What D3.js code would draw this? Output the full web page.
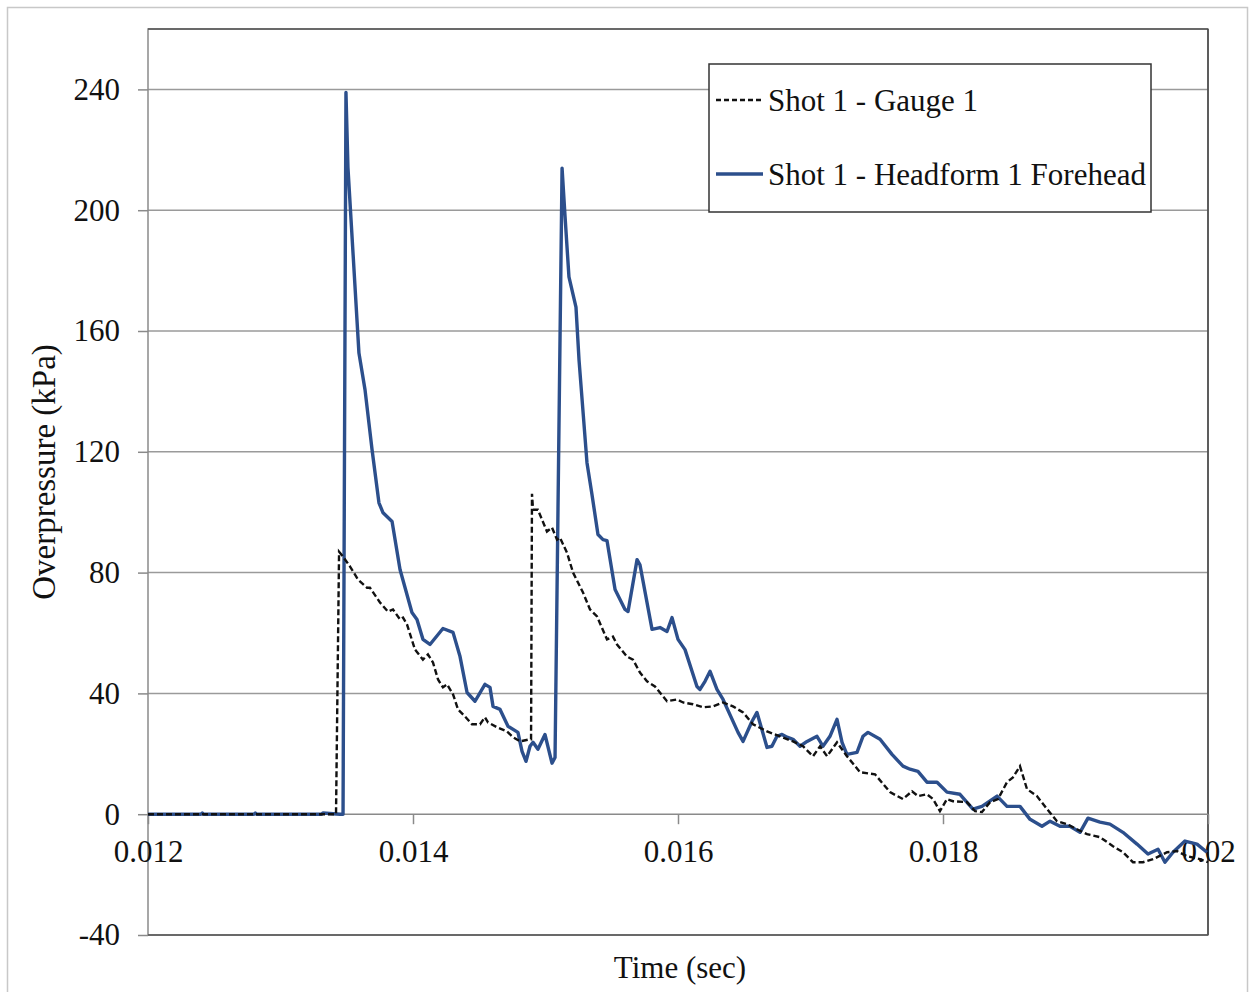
<!DOCTYPE html>
<html><head><meta charset="utf-8">
<script src="https://cdn.jsdelivr.net/npm/d3@7"></script>
<style>body{margin:0;background:#fff}svg{display:block}</style>
</head><body>
<svg id="chart" width="1256" height="992"></svg>
<script>
const seriesNames = ["Shot 1 - Gauge 1", "Shot 1 - Headform 1 Forehead"];
const xTicks = [0.012, 0.014, 0.016, 0.018, 0.02];
const xTickLabels = ["0.012", "0.014", "0.016", "0.018", "0.02"];
const yTicks = [-40, 0, 40, 80, 120, 160, 200, 240];
const yTickLabels = ["-40", "0", "40", "80", "120", "160", "200", "240"];

const gaugeTime = [0.012,0.01265,0.0129,0.013419,0.013442,0.013472,0.013525,0.013585,0.013653,0.013675,0.013751,0.013811,0.013849,0.013902,0.013925,0.013955,0.014015,0.014075,0.014113,0.014151,0.014189,0.014226,0.014257,0.014302,0.01434,0.014392,0.014445,0.014506,0.014543,0.014566,0.014634,0.014709,0.014755,0.014808,0.014883,0.014891,0.014898,0.014906,0.014943,0.015011,0.015049,0.015087,0.015109,0.015162,0.015208,0.015283,0.015336,0.015389,0.015464,0.015509,0.01554,0.015615,0.01566,0.015713,0.015766,0.015826,0.015917,0.015992,0.016038,0.016113,0.016189,0.016264,0.01634,0.016415,0.016491,0.016566,0.016672,0.01677,0.016868,0.016943,0.017019,0.017072,0.017125,0.0172,0.017275,0.017374,0.017487,0.0176,0.017698,0.017766,0.017811,0.017879,0.017925,0.017977,0.01803,0.018075,0.018181,0.018242,0.018294,0.018355,0.018415,0.018483,0.018528,0.018581,0.018634,0.018709,0.018785,0.01886,0.018936,0.019011,0.019087,0.019185,0.019283,0.019358,0.019434,0.019509,0.019585,0.019691,0.019766,0.019841,0.01994,0.02];
const gaugeValue = [0,0,0,0,86.9,85.3,82.0,77.7,75.0,75.0,70.1,67.1,67.8,64.5,65.1,62.8,54.5,51.2,52.9,50.2,44.6,42.0,43.0,39.7,34.7,32.4,29.8,29.8,32.1,30.4,28.8,27.4,25.5,24.1,24.8,24.8,106.1,100.8,100.8,93.6,94.9,90.9,91.6,86.6,80.0,73.4,67.8,65.5,57.9,58.8,56.2,52.2,51.2,46.9,44.0,42.3,37.4,38.0,37.0,36.4,35.4,35.7,37.0,35.7,33.7,29.8,27.4,25.8,24.1,22.5,19.2,22.5,19.2,23.8,19.2,13.9,13.2,7.3,5.0,7.6,6.0,6.6,5.0,1.0,5.0,4.3,4.0,1.0,0.7,4.0,5.0,10.6,12.2,15.9,8.3,6.0,1.7,-2.3,-3.3,-5.0,-6.6,-7.6,-10.6,-12.6,-15.9,-15.9,-14.9,-12.6,-12.2,-13.9,-14.9,-15.9];

const headTime = [0.012,0.0124,0.01241,0.01242,0.0128,0.01281,0.01282,0.01331,0.01332,0.013449,0.013472,0.013494,0.013509,0.013592,0.013638,0.013691,0.013743,0.013774,0.013842,0.013902,0.013992,0.01403,0.014075,0.014128,0.014226,0.014302,0.014355,0.014408,0.014468,0.014543,0.014581,0.014604,0.014657,0.014717,0.014792,0.014823,0.014853,0.014883,0.014906,0.014943,0.014996,0.015049,0.015072,0.015125,0.015147,0.015177,0.01523,0.015253,0.015313,0.015351,0.015396,0.015434,0.015464,0.015525,0.0156,0.015623,0.015691,0.015713,0.015804,0.015864,0.015917,0.015955,0.016,0.016053,0.016143,0.016166,0.016204,0.016242,0.016294,0.01634,0.016453,0.016491,0.016558,0.016596,0.016672,0.016709,0.016747,0.016785,0.016823,0.016868,0.016921,0.016974,0.017049,0.017094,0.017147,0.0172,0.017238,0.017275,0.017351,0.017396,0.017434,0.017525,0.017615,0.017698,0.017751,0.017811,0.017879,0.017955,0.01803,0.018128,0.018226,0.018294,0.018408,0.018483,0.018581,0.018657,0.018747,0.018808,0.018883,0.018958,0.019034,0.019094,0.019185,0.01926,0.019358,0.019464,0.019547,0.019623,0.019675,0.019736,0.019826,0.019917,0.019992];
const headValue = [0,0,0.4,0,0,0.4,0,0,0.4,0,0,239.0,214.2,152.7,140.5,120.7,103.1,99.8,96.9,81.0,66.8,64.5,57.9,56.2,61.5,60.2,52.2,40.3,37.4,43.0,42.0,35.7,34.7,29.1,27.1,20.8,17.5,22.5,23.8,21.5,26.4,16.9,18.8,213.9,198.3,177.9,167.9,150.4,116.4,105.8,92.6,90.9,90.6,74.4,67.8,67.1,84.3,82.6,61.2,61.8,60.5,65.1,57.9,54.5,42.3,41.3,44.0,47.3,41.3,38.0,27.1,24.1,30.7,33.7,22.1,22.5,25.8,26.4,25.5,24.8,22.5,24.1,25.8,22.5,25.8,31.4,23.8,19.8,20.5,25.8,27.1,24.8,19.8,15.9,14.9,14.2,10.6,10.6,7.3,6.6,1.7,2.6,6.0,2.6,2.6,-1.7,-4.0,-2.3,-4.0,-4.0,-6.0,-1.3,-2.6,-3.3,-6.0,-9.9,-13.2,-11.6,-15.9,-12.6,-8.9,-9.9,-12.6];

const gauge = gaugeTime.map((t,i)=>({t, v: gaugeValue[i]}));
const head = headTime.map((t,i)=>({t, v: headValue[i]}));

const svg = d3.select("#chart");
const FONT = "'Liberation Serif', 'Times New Roman', serif";
const L = 148, R = 1208, T = 29, B = 935;

svg.append("rect").attr("x",7.5).attr("y",7.5).attr("width",1240).attr("height",1000)
  .attr("fill","#fff").attr("stroke","#c8c8c8").attr("stroke-width",1.5);

const x = d3.scaleLinear().domain([0.012, 0.02]).range([L, R]);
const y = d3.scaleLinear().domain([-40, 260]).range([B, T]);

// gridlines
svg.append("g").selectAll("line").data(yTicks.filter(v=>v>0)).join("line")
  .attr("x1",L).attr("x2",R).attr("y1",d=>y(d)).attr("y2",d=>y(d))
  .attr("stroke","#9a9a9a").attr("stroke-width",1.5);

// plot border
svg.append("rect").attr("x",L).attr("y",T).attr("width",R-L).attr("height",B-T)
  .attr("fill","none").attr("stroke","#8a8a8a").attr("stroke-width",1.5);
svg.append("line").attr("x1",L).attr("x2",R).attr("y1",T).attr("y2",T).attr("stroke","#555").attr("stroke-width",1.5);
svg.append("line").attr("x1",R).attr("x2",R).attr("y1",T).attr("y2",B).attr("stroke","#444").attr("stroke-width",1.5);
svg.append("line").attr("x1",L).attr("x2",R).attr("y1",B).attr("y2",B).attr("stroke","#555").attr("stroke-width",1.5);

// y axis
const yAxis = d3.axisLeft(y).tickValues(yTicks).tickSize(10).tickPadding(18)
  .tickFormat((d,i)=>yTickLabels[i]);
const gy = svg.append("g").attr("transform",`translate(${L},0)`).call(yAxis);
gy.select(".domain").remove();
gy.selectAll(".tick line").attr("stroke","#8a8a8a").attr("stroke-width",1.5);
gy.selectAll(".tick text").attr("font-family",FONT).attr("font-size",31).attr("fill","#111");

// x axis at y=0
const xAxis = d3.axisBottom(x).tickValues(xTicks).tickSize(10).tickPadding(16)
  .tickFormat((d,i)=>xTickLabels[i]);
const gx = svg.append("g").attr("transform",`translate(0,${y(0)})`).call(xAxis);
gx.select(".domain").attr("stroke","#8a8a8a").attr("stroke-width",1.5).attr("d",`M${L},0H${R}`);
gx.selectAll(".tick line").attr("stroke","#8a8a8a").attr("stroke-width",1.5);
gx.selectAll(".tick text").attr("font-family",FONT).attr("font-size",31).attr("fill","#111");

// lines
const line = d3.line().x(d=>x(d.t)).y(d=>y(d.v));
svg.append("path").datum(head).attr("d",line).attr("fill","none")
  .attr("stroke","#2c4f8c").attr("stroke-width",3.4).attr("stroke-linejoin","round");
svg.append("path").datum(gauge).attr("d",line).attr("fill","none")
  .attr("stroke","#111").attr("stroke-width",2.4).attr("stroke-dasharray","6,3");

// axis titles
svg.append("text").attr("x",680).attr("y",978).attr("text-anchor","middle")
  .attr("font-family",FONT).attr("font-size",31).attr("fill","#111").text("Time (sec)");
svg.append("text").attr("transform","translate(55,472) rotate(-90)").attr("text-anchor","middle")
  .attr("font-family",FONT).attr("font-size",33).attr("fill","#111").text("Overpressure (kPa)");

// legend
const lg = svg.append("g");
lg.append("rect").attr("x",709).attr("y",64).attr("width",442).attr("height",148)
  .attr("fill","#fff").attr("stroke","#333").attr("stroke-width",1.5);
const legendItems = [
  {name: seriesNames[0], color:"#111", dash:"5,3", w:2.4, cy:100},
  {name: seriesNames[1], color:"#2c4f8c", dash:null, w:3.4, cy:174}
];
legendItems.forEach(it=>{
  lg.append("line").attr("x1",716).attr("x2",763).attr("y1",it.cy).attr("y2",it.cy)
    .attr("stroke",it.color).attr("stroke-width",it.w).attr("stroke-dasharray",it.dash);
  lg.append("text").attr("x",768).attr("y",it.cy).attr("dy","0.35em")
    .attr("font-family",FONT).attr("font-size",31).attr("fill","#111").text(it.name);
});
</script>
</body></html>
